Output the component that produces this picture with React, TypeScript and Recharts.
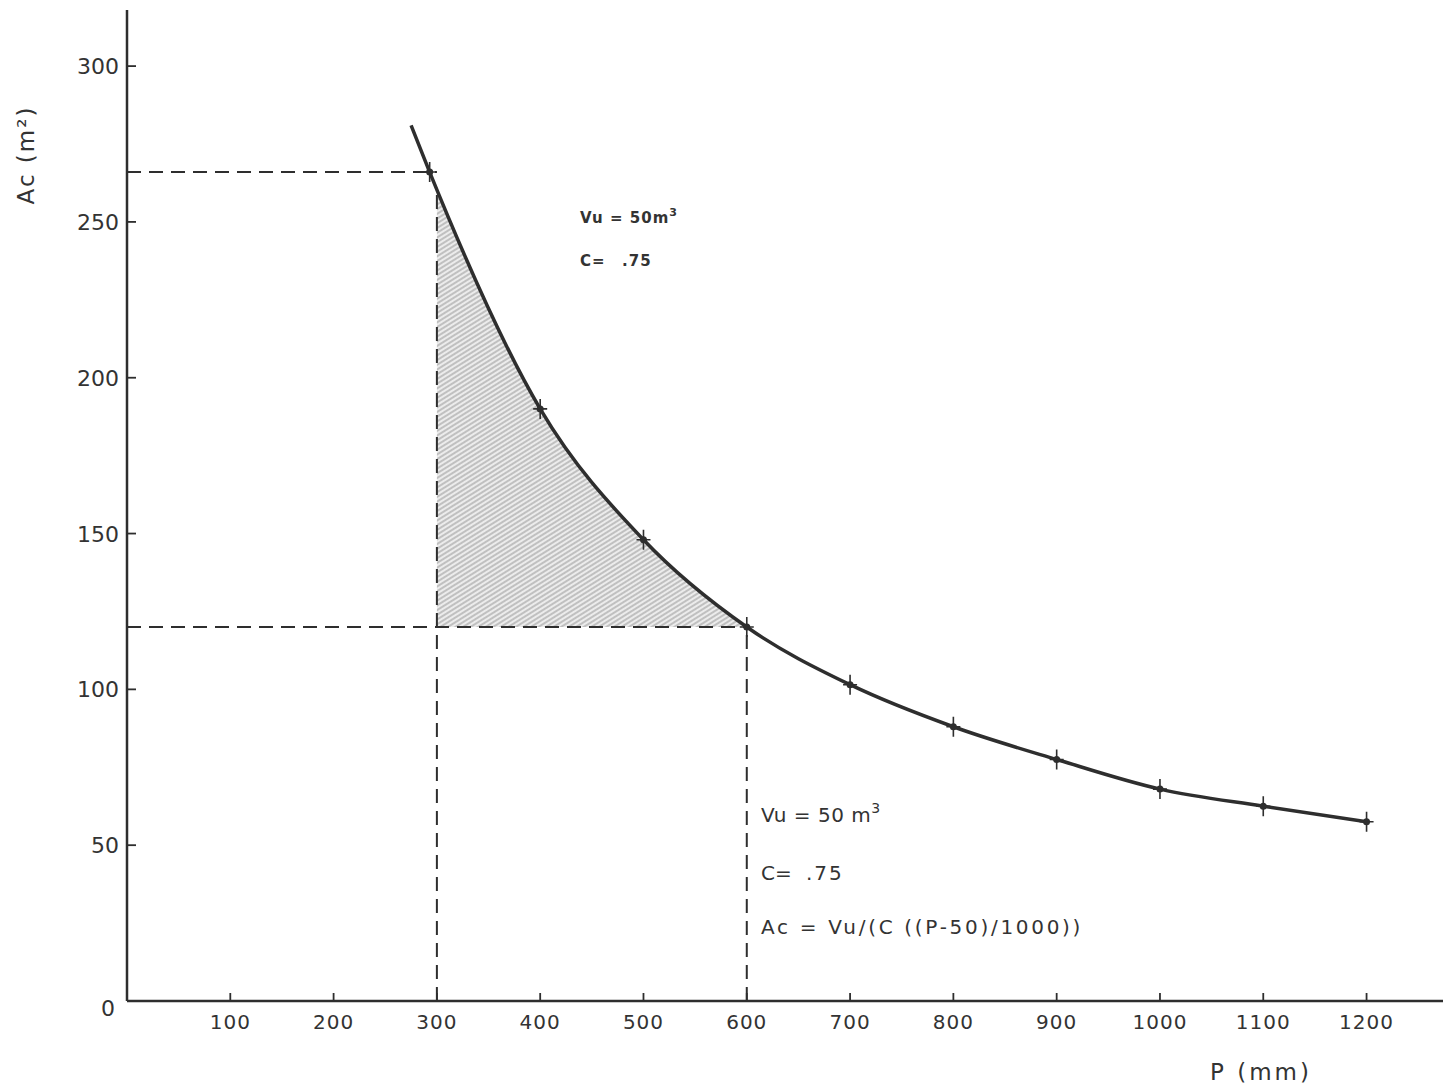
import { ComposedChart, Line, Area, XAxis, YAxis, ReferenceLine } from 'recharts';

// curve Ac = f(P) (first point is the loose end, no marker)
const pValues = [275, 293, 400, 500, 600, 700, 800, 900, 1000, 1100, 1200];
const acValues = [281, 266, 190, 148, 120, 101.5, 88, 77.5, 68, 62.5, 57.5];

// shaded zone between P = 300 and the curve, above Ac = 120
const shadeP = [300, 400, 500, 600];
const shadeTop = [259, 190, 148, 120];
const shadeBase = 120;

const xTicks = [100, 200, 300, 400, 500, 600, 700, 800, 900, 1000, 1100, 1200];
const yTicks = [0, 50, 100, 150, 200, 250, 300];

const curveData = pValues.map((p, i) => ({ p, ac: acValues[i] }));
const shadeData = shadeP.map((p, i) => ({ p, band: [shadeBase, shadeTop[i]] }));

const ink = '#2e2e2e';
const font = '"DejaVu Sans", sans-serif';

const XTick = (props: any) => {
  const { x, y, payload } = props;
  return (
    <g>
      <line x1={x} y1={y} x2={x} y2={y - 8} stroke={ink} strokeWidth={1.8} />
      <text x={x} y={y + 28} textAnchor="middle" fontSize={20} fontFamily={font} fill="#333" letterSpacing={1}>
        {payload.value}
      </text>
    </g>
  );
};

const YTick = (props: any) => {
  const { x, y, payload } = props;
  const zero = payload.value === 0;
  return (
    <g>
      {!zero && <line x1={x} y1={y} x2={x + 9} y2={y} stroke={ink} strokeWidth={1.8} />}
      <text x={zero ? x - 12 : x - 8} y={y + (zero ? 15 : 8)} textAnchor="end" fontSize={22} fontFamily={font} fill="#333">
        {payload.value}
      </text>
    </g>
  );
};

const CrossDot = (props: any) => {
  const { cx, cy, index } = props;
  if (index === 0 || cx == null) return <g key={`d${index}`} />;
  return (
    <g key={`d${index}`}>
      <path d={`M${cx - 7},${cy}H${cx + 7}M${cx},${cy - 10}V${cy + 10}`} stroke={ink} strokeWidth={1.6} />
      <circle cx={cx} cy={cy} r={3.5} fill={ink} />
    </g>
  );
};

const dash = '14 8';

export default function App() {
  return (
    <div style={{ position: 'fixed', left: 0, top: 0, background: '#fff' }}>
      <ComposedChart width={1443} height={1091} margin={{ top: 10, right: 0, left: 0, bottom: 0 }}>
        <defs>
          <pattern id="hatch" patternUnits="userSpaceOnUse" width={6} height={4} patternTransform="rotate(-32)">
            <rect width={6} height={4} fill="#ececec" />
            <line x1={0} y1={1} x2={6} y2={1} stroke="#8a8a8a" strokeWidth={0.9} />
          </pattern>
        </defs>
        <XAxis
          type="number"
          dataKey="p"
          domain={[0, 1274]}
          ticks={xTicks}
          height={90}
          tickSize={0}
          tickMargin={0}
          tickLine={false}
          tick={<XTick />}
          axisLine={{ stroke: ink, strokeWidth: 2.5 }}
          allowDataOverflow
        />
        <YAxis
          type="number"
          domain={[0, 318]}
          ticks={yTicks}
          width={127}
          tickSize={0}
          tickMargin={0}
          tickLine={false}
          tick={<YTick />}
          axisLine={{ stroke: ink, strokeWidth: 2.5 }}
          allowDataOverflow
        />
        <Area
          data={shadeData}
          dataKey="band"
          type="monotone"
          stroke="none"
          fill="url(#hatch)"
          fillOpacity={1}
          isAnimationActive={false}
        />
        <ReferenceLine segment={[{ x: 0, y: 266 }, { x: 300, y: 266 }]} stroke={ink} strokeWidth={2} strokeDasharray={dash} />
        <ReferenceLine segment={[{ x: 0, y: 120 }, { x: 600, y: 120 }]} stroke={ink} strokeWidth={2} strokeDasharray={dash} />
        <ReferenceLine segment={[{ x: 300, y: 0 }, { x: 300, y: 259 }]} stroke={ink} strokeWidth={2} strokeDasharray={dash} />
        <ReferenceLine segment={[{ x: 600, y: 0 }, { x: 600, y: 120 }]} stroke={ink} strokeWidth={2} strokeDasharray={dash} />
        <Line
          data={curveData}
          dataKey="ac"
          type="monotone"
          stroke={ink}
          strokeWidth={3.5}
          dot={<CrossDot />}
          activeDot={false}
          isAnimationActive={false}
        />
        <text x={34} y={155} transform="rotate(-90 34 155)" textAnchor="middle" fontSize={23} fontFamily={font} fill="#333" letterSpacing={2}>
          Ac (m²)
        </text>
        <text x={1261} y={1080} textAnchor="middle" fontSize={23} fontFamily={font} fill="#333" letterSpacing={3}>
          P (mm)
        </text>
        <g fontFamily={font} fill="#333" fontWeight="bold" fontSize={15} letterSpacing={1}>
          <text x={580} y={223}>
            Vu = 50m<tspan dy={-7} fontSize={11}>3</tspan>
          </text>
          <text x={580} y={266}>C=</text>
          <text x={622} y={266}>.75</text>
        </g>
        <g fontFamily={font} fill="#333" fontSize={20}>
          <text x={761} y={822} letterSpacing={0.5}>
            Vu = 50 m<tspan dy={-9} fontSize={14}>3</tspan>
          </text>
          <text x={761} y={880}>C=</text>
          <text x={806} y={880} letterSpacing={2}>.75</text>
          <text x={761} y={934} letterSpacing={2.7}>Ac = Vu/(C  ((P-50)/1000))</text>
        </g>
      </ComposedChart>
    </div>
  );
}
